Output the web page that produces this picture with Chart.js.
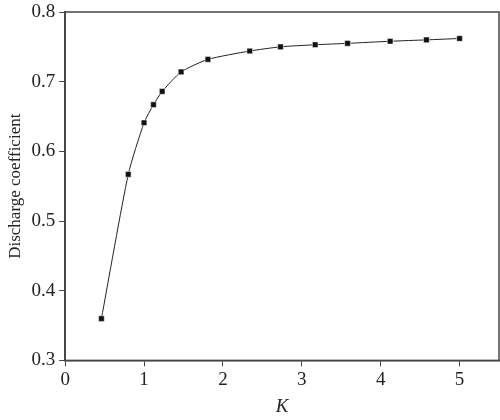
<!DOCTYPE html>
<html>
<head>
<meta charset="utf-8">
<script src="https://cdn.jsdelivr.net/npm/chart.js"></script>
<style>
  html, body { margin: 0; padding: 0; background: #fff; }
  #wrap { width: 500px; height: 420px; }
</style>
</head>
<body>
<div id="wrap"><canvas id="chart" width="500" height="420"></canvas></div>
<script>
// K values and discharge coefficient
const kValues = [0.46, 0.80, 1.00, 1.12, 1.23, 1.47, 1.81, 2.34, 2.73, 3.17, 3.58, 4.12, 4.58, 5.00];
const coefValues = [0.360, 0.567, 0.641, 0.667, 0.686, 0.714, 0.732, 0.744, 0.750, 0.753, 0.755, 0.758, 0.760, 0.762];
const xTicks = [0, 1, 2, 3, 4, 5];
const yTicks = [0.3, 0.4, 0.5, 0.6, 0.7, 0.8];

const points = kValues.map((k, i) => ({ x: k, y: coefValues[i] }));

// draws the box around the plot area
const frame = {
  id: 'frame',
  afterDraw(chart) {
    const a = chart.chartArea;
    const c = chart.ctx;
    c.save();
    c.strokeStyle = '#444';
    c.lineWidth = 1.5;
    c.strokeRect(a.left, a.top, a.right - a.left, a.bottom - a.top);
    c.restore();
  }
};

const serif = "'Liberation Serif', 'Times New Roman', serif";

new Chart(document.getElementById('chart').getContext('2d'), {
  type: 'scatter',
  data: {
    datasets: [{
      data: points,
      showLine: true,
      borderColor: '#222',
      borderWidth: 1,
      tension: 0.2,
      pointStyle: 'rect',
      pointRadius: 4,
      pointBackgroundColor: '#111',
      pointBorderColor: '#fff',
      pointBorderWidth: 0.5
    }]
  },
  options: {
    responsive: false,
    animation: false,
    layout: { autoPadding: false, padding: { top: 0, right: 0, left: 1, bottom: -2 } },
    plugins: { legend: { display: false }, tooltip: { enabled: false } },
    scales: {
      x: {
        type: 'linear',
        min: 0,
        max: 5.5,
        afterBuildTicks: axis => { axis.ticks = xTicks.map(v => ({ value: v })); },
        afterFit: axis => { axis.paddingRight = 1; },
        grid: { drawOnChartArea: false, drawTicks: true, tickLength: 6, color: '#444' },
        border: { color: '#444', width: 1.5 },
        ticks: { color: '#222', font: { family: serif, size: 19 }, padding: 2 },
        title: { display: true, text: 'K', color: '#222', font: { family: serif, size: 19, style: 'italic' }, padding: { top: 2 } }
      },
      y: {
        type: 'linear',
        min: 0.3,
        max: 0.8,
        afterBuildTicks: axis => { axis.ticks = yTicks.map(v => ({ value: v })); },
        afterFit: axis => { axis.paddingTop = 12; },
        grid: { drawOnChartArea: false, drawTicks: true, tickLength: 6, color: '#444' },
        border: { color: '#444', width: 1.5 },
        ticks: { color: '#222', font: { family: serif, size: 19 }, padding: 4, callback: v => v.toFixed(1) },
        title: { display: true, text: 'Discharge coefficient', color: '#222', font: { family: serif, size: 17 }, padding: { bottom: 2 } }
      }
    }
  },
  plugins: [frame]
});
</script>
</body>
</html>
